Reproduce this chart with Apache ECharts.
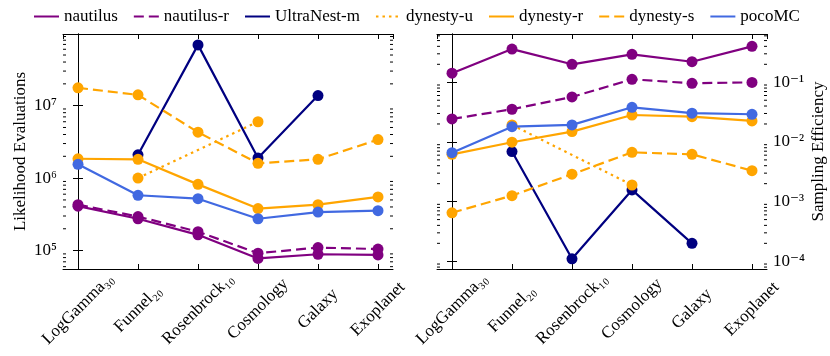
<!DOCTYPE html>
<html>
<head>
<meta charset="utf-8">
<script src="https://cdn.jsdelivr.net/npm/echarts@6/dist/echarts.min.js"></script>
<style>html,body{margin:0;padding:0;background:#fff;}#c{width:830px;height:356px;}</style>
</head>
<body>
<div id="c"></div>
<script>
// ---------------- data ----------------
const CATEGORIES = ['LogGamma\u2083\u2080', 'Funnel\u2082\u2080', 'Rosenbrock\u2081\u2080', 'Cosmology', 'Galaxy', 'Exoplanet'];
const METHODS = ['nautilus', 'nautilus-r', 'UltraNest-m', 'dynesty-u', 'dynesty-r', 'dynesty-s', 'pocoMC'];

// Likelihood evaluations (left panel)
const EVAL_NAUTILUS    = [4.1e5, 2.75e5, 1.65e5, 7.8e4, 8.9e4, 8.7e4];
const EVAL_NAUTILUS_R  = [4.3e5, 2.95e5, 1.82e5, 9.2e4, 1.1e5, 1.05e5];
const EVAL_ULTRANEST_M = [null, 2.1e6, 6.9e7, 1.9e6, 1.38e7, null];
const EVAL_DYNESTY_U   = [null, 1.0e6, null, 6.0e6, null, null];
const EVAL_DYNESTY_R   = [1.85e6, 1.82e6, 8.2e5, 3.8e5, 4.3e5, 5.5e5];
const EVAL_DYNESTY_S   = [1.76e7, 1.41e7, 4.3e6, 1.6e6, 1.82e6, 3.4e6];
const EVAL_POCOMC      = [1.55e6, 5.8e5, 5.2e5, 2.75e5, 3.4e5, 3.55e5];

// Sampling efficiency (right panel)
const EFF_NAUTILUS    = [0.142, 0.36, 0.20, 0.294, 0.221, 0.40];
const EFF_NAUTILUS_R  = [0.0243, 0.0353, 0.0567, 0.112, 0.0962, 0.0996];
const EFF_ULTRANEST_M = [null, 6.9e-3, 1.1e-4, 1.57e-3, 2.0e-4, null];
const EFF_DYNESTY_U   = [null, 0.0193, null, 1.9e-3, null, null];
const EFF_DYNESTY_R   = [6.2e-3, 9.9e-3, 0.0149, 0.0283, 0.0265, 0.0225];
const EFF_DYNESTY_S   = [6.5e-4, 1.26e-3, 2.88e-3, 6.7e-3, 6.2e-3, 3.3e-3];
const EFF_POCOMC      = [6.6e-3, 0.018, 0.0193, 0.0381, 0.0303, 0.0291];

// minor tick values of the log axes
const MINOR_TICKS_LEFT = [6e4, 7e4, 8e4, 9e4, 2e5, 3e5, 4e5, 5e5, 6e5, 7e5, 8e5, 9e5,
  2e6, 3e6, 4e6, 5e6, 6e6, 7e6, 8e6, 9e6, 2e7, 3e7, 4e7, 5e7, 6e7, 7e7, 8e7, 9e7];
const MINOR_TICKS_RIGHT = [8e-5, 9e-5, 2e-4, 3e-4, 4e-4, 5e-4, 6e-4, 7e-4, 8e-4, 9e-4,
  2e-3, 3e-3, 4e-3, 5e-3, 6e-3, 7e-3, 8e-3, 9e-3, 2e-2, 3e-2, 4e-2, 5e-2, 6e-2, 7e-2, 8e-2, 9e-2,
  2e-1, 3e-1, 4e-1, 5e-1, 6e-1];

// ---------------- styling ----------------
const FONT = '"Liberation Serif", "DejaVu Serif", serif';
const STYLE = {
  'nautilus':    { color: '#800080', type: 'solid' },
  'nautilus-r':  { color: '#800080', type: [10, 5] },
  'UltraNest-m': { color: '#000080', type: 'solid' },
  'dynesty-u':   { color: '#FFA500', type: [2.5, 4] },
  'dynesty-r':   { color: '#FFA500', type: 'solid' },
  'dynesty-s':   { color: '#FFA500', type: [10, 5] },
  'pocoMC':      { color: '#4169E1', type: 'solid' }
};
const EVALS = [EVAL_NAUTILUS, EVAL_NAUTILUS_R, EVAL_ULTRANEST_M, EVAL_DYNESTY_U, EVAL_DYNESTY_R, EVAL_DYNESTY_S, EVAL_POCOMC];
const EFFS  = [EFF_NAUTILUS, EFF_NAUTILUS_R, EFF_ULTRANEST_M, EFF_DYNESTY_U, EFF_DYNESTY_R, EFF_DYNESTY_S, EFF_POCOMC];

const SUP = { '0': '\u2070', '1': '\u00b9', '2': '\u00b2', '3': '\u00b3', '4': '\u2074', '5': '\u2075',
  '6': '\u2076', '7': '\u2077', '8': '\u2078', '9': '\u2079', '-': '\u207b' };
function logLabel(v) {
  const e = Math.log10(v);
  const r = Math.round(e);
  if (Math.abs(e - r) > 1e-6) return '';
  return '10' + String(r).split('').map(c => SUP[c]).join('');
}
function catLabel(v) {
  if (Math.abs(v - Math.round(v)) > 1e-6) return '';
  return CATEGORIES[Math.round(v)] || '';
}

const X_MIN = -0.25, X_MAX = 5.25;
const Y_LEFT = [5.57e4, 9.75e7];
const Y_RIGHT = [7.43e-5, 0.644];

const axisLine = { show: true, lineStyle: { color: '#000', width: 1 } };
const tickIn = { show: true, inside: true, length: 5, lineStyle: { color: '#000', width: 1 } };

function xAxes(grid) {
  return [
    { type: 'value', gridIndex: grid, position: 'bottom', min: X_MIN, max: X_MAX,
      axisLine, axisTick: tickIn, splitLine: { show: false },
      axisLabel: { formatter: catLabel, rotate: 45, align: 'center', verticalAlign: 'middle',
        margin: 40, fontFamily: FONT, fontSize: 17, color: '#000', showMinLabel: false, showMaxLabel: false,
        hideOverlap: false } },
    { type: 'value', gridIndex: grid, position: 'top', min: X_MIN, max: X_MAX,
      axisLine, axisTick: tickIn, splitLine: { show: false }, axisLabel: { show: false } }
  ];
}
function yAxes(grid, ext, labelSide, name) {
  const mk = (pos) => {
    const labeled = pos === labelSide;
    const ax = { type: 'log', logBase: 10, gridIndex: grid, position: pos, min: ext[0], max: ext[1],
      axisLine, axisTick: tickIn, splitLine: { show: false }, minorTick: { show: false },
      axisLabel: labeled ? { formatter: logLabel, fontFamily: FONT, fontSize: 17, color: '#000', margin: 6,
        showMinLabel: false, showMaxLabel: false } : { show: false } };
    if (labeled) {
      ax.name = name; ax.nameLocation = 'middle'; ax.nameRotate = 90;
      ax.nameGap = pos === 'left' ? 34 : 43;
      ax.nameTextStyle = { fontFamily: FONT, fontSize: 17, color: '#000' };
    }
    return ax;
  };
  return [mk('left'), mk('right')];
}

const series = [];
[EVALS, EFFS].forEach((set, g) => {
  METHODS.forEach((m, i) => {
    const pts = [];
    set[i].forEach((v, k) => { if (v !== null) pts.push([k, v]); });
    series.push({
      name: m, type: 'line', xAxisIndex: g * 2, yAxisIndex: g * 2, data: pts,
      symbol: 'circle', symbolSize: 11, showSymbol: true,
      lineStyle: { color: STYLE[m].color, width: 2.2, type: STYLE[m].type, cap: 'butt' },
      itemStyle: { color: STYLE[m].color }, z: 2 + i, animation: false
    });
  });
  const minor = g === 0 ? MINOR_TICKS_LEFT : MINOR_TICKS_RIGHT;
  series.push({
    type: 'custom', xAxisIndex: g * 2, yAxisIndex: g * 2, silent: true, animation: false, z: 20,
    data: minor.map(v => [0, v]), clip: false,
    renderItem: (params, api) => {
      const p = api.coord([0, api.value(1)]);
      const cs = params.coordSys;
      if (p[1] < cs.y - 0.5 || p[1] > cs.y + cs.height + 0.5) return null;
      const ls = { stroke: '#000', lineWidth: 1 };
      return { type: 'group', children: [
        { type: 'line', shape: { x1: cs.x, y1: p[1], x2: cs.x + 3, y2: p[1] }, style: ls },
        { type: 'line', shape: { x1: cs.x + cs.width - 3, y1: p[1], x2: cs.x + cs.width, y2: p[1] }, style: ls }
      ] };
    }
  });
});

const chart = echarts.init(document.getElementById('c'), null, { renderer: 'canvas' });
chart.setOption({
  animation: false,
  backgroundColor: '#fff',
  textStyle: { fontFamily: FONT },
  legend: {
    data: METHODS, left: 28, top: 3, itemWidth: 25, itemHeight: 10, itemGap: 15,
    textStyle: { fontFamily: FONT, fontSize: 17, color: '#000' },
    itemStyle: { opacity: 0 }
  },
  grid: [
    { left: 63, top: 34, width: 330, height: 235 },
    { left: 437, top: 34, width: 330, height: 235 }
  ],
  xAxis: [...xAxes(0), ...xAxes(1)],
  yAxis: [...yAxes(0, Y_LEFT, 'left', 'Likelihood Evaluations'), ...yAxes(1, Y_RIGHT, 'right', 'Sampling Efficiency')],
  series
});
</script>
</body>
</html>
